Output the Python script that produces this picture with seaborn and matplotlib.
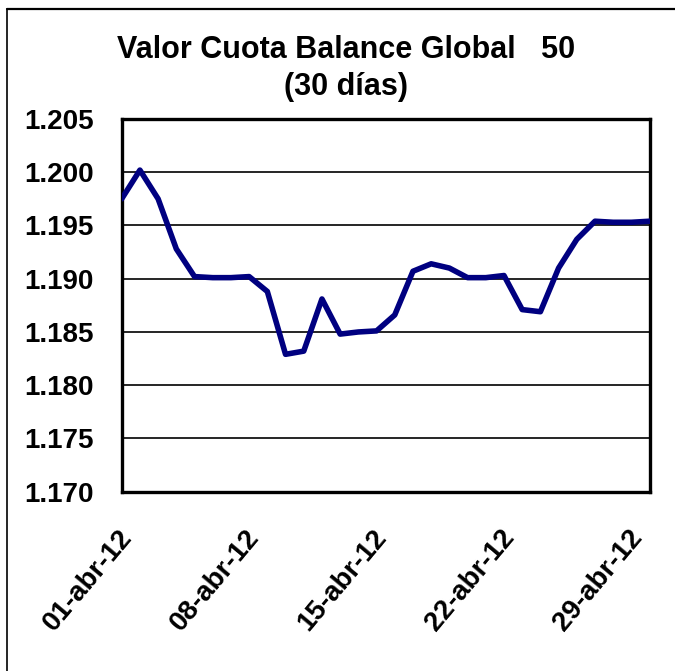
import pandas as pd
import matplotlib
matplotlib.use('Agg')
import matplotlib.pyplot as plt
import matplotlib.transforms as mtransforms
from matplotlib.lines import Line2D
import seaborn as sns

# Valores (abril 2012, diario)
fechas = pd.date_range('2012-04-01', '2012-04-30', freq='D')
valor_cuota = [1.1975, 1.2002, 1.1975, 1.1928, 1.1902, 1.1901, 1.1901, 1.1902,
               1.1888, 1.1829, 1.1832, 1.1881, 1.1848, 1.1850, 1.1851, 1.1866,
               1.1907, 1.1914, 1.1910, 1.1901, 1.1901, 1.1903, 1.1871, 1.1869,
               1.1910, 1.1937, 1.1954, 1.1953, 1.1953, 1.1954]
ticks_x = pd.to_datetime(['2012-04-01', '2012-04-08', '2012-04-15', '2012-04-22', '2012-04-29'])
etiquetas_x = ['01-abr-12', '08-abr-12', '15-abr-12', '22-abr-12', '29-abr-12']
ticks_y = [1.170, 1.175, 1.180, 1.185, 1.190, 1.195, 1.200, 1.205]
etiquetas_y = ['1.170', '1.175', '1.180', '1.185', '1.190', '1.195', '1.200', '1.205']

df = pd.DataFrame({'fecha': fechas, 'valor': valor_cuota})

sns.set_style('white')
plt.rcParams['font.family'] = ['Liberation Sans', 'DejaVu Sans']
plt.rcParams['font.weight'] = 'bold'
plt.rcParams['text.color'] = 'black'

fig = plt.figure(figsize=(6.75, 6.71), dpi=100)
ax = fig.add_axes([0.1803, 0.2672, 0.7821, 0.5555])

sns.lineplot(data=df, x='fecha', y='valor', ax=ax, color='#000080',
             linewidth=4.0, solid_joinstyle='round', solid_capstyle='round',
             zorder=3)

ax.set_xlim(fechas[0], fechas[-1])
ax.set_ylim(1.170, 1.205)
ax.set_yticks(ticks_y)
ax.set_yticklabels(etiquetas_y, fontsize=20, fontweight='bold')
ax.set_xticks(ticks_x)
ax.set_xticklabels(etiquetas_x, fontsize=20, fontweight='bold',
                   rotation=50, ha='right', va='top', rotation_mode='anchor')
ax.set_xlabel('')
ax.set_ylabel('')

ax.grid(axis='y', color='black', linewidth=1.2)
ax.grid(axis='x', visible=False)
for s in ax.spines.values():
    s.set_color('black')
    s.set_linewidth(2.4)
ax.tick_params(axis='y', direction='out', length=4, width=1.2, pad=16, colors='black')
ax.tick_params(axis='x', direction='out', length=6, width=1.2, pad=18, colors='black')

# ajustar la posición horizontal de las etiquetas rotadas
desp = mtransforms.ScaledTranslation(-4 / 100, 0, fig.dpi_scale_trans)
for lab in ax.get_xticklabels():
    lab.set_transform(lab.get_transform() + desp)

fig.text(346 / 675, 1 - 58 / 671, 'Valor Cuota Balance Global   50',
         ha='center', va='baseline', fontsize=22, fontweight='bold', color='black')
fig.text(346 / 675, 1 - 95 / 671, '(30 días)',
         ha='center', va='baseline', fontsize=22, fontweight='bold', color='black')

# borde del área del gráfico (recortado a la derecha y abajo)
fig.add_artist(Line2D([7 / 675, 1.0], [1 - 9 / 671, 1 - 9 / 671],
                      transform=fig.transFigure, color='black', linewidth=1.6))
fig.add_artist(Line2D([7 / 675, 7 / 675], [0.0, 1 - 9 / 671],
                      transform=fig.transFigure, color='black', linewidth=1.2))

fig.savefig('out.png', dpi=100, facecolor='white')
